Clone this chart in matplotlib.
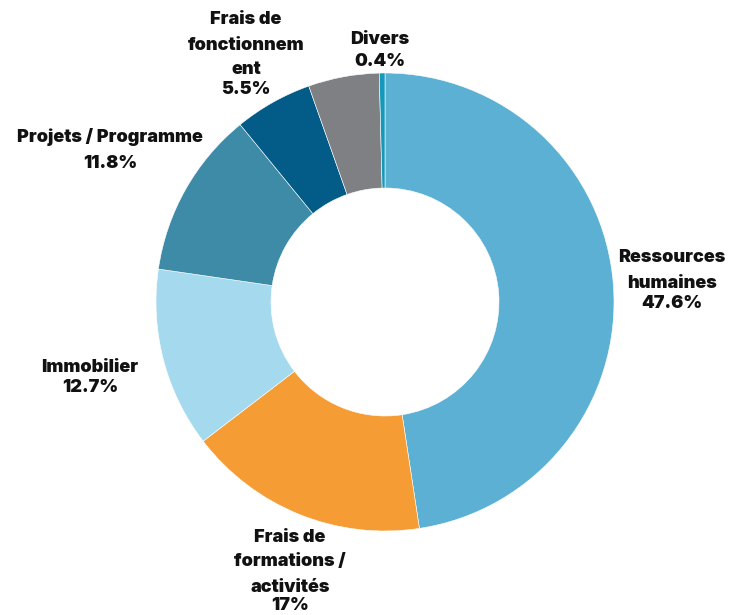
import matplotlib.pyplot as plt

# ----------------------------
# Data
# ----------------------------
categories = ["Ressources\nhumaines", "Frais de\nformations /\nactivités", "Immobilier",
              "Projets / Programme", "Frais de\nfonctionnem\nent", "", "Divers"]
values = [47.6, 17.0, 12.7, 11.8, 5.5, 5.0, 0.4]
pct_labels = ["47.6%", "17%", "12.7%", "11.8%", "5.5%", "", "0.4%"]
colors = ["#5BB0D4", "#F59C34", "#A5DAEE", "#3D8BA6", "#035C88", "#7F8083", "#1399B9"]

# label anchor (pixel coords, top-left origin): x centre, y of first line, gap to pct line
label_pos = [(672, 258, 21), (290, 537, 19), (90, 367, 20), (110, 137, 26),
             (246, 20, 19), None, (380, 40, 21)]

plt.rcParams['font.family'] = ['Inter', 'DejaVu Sans']

W, H = 731, 615
fig = plt.figure(figsize=(W / 100, H / 100), dpi=100)
ax = fig.add_axes([0, 0, 1, 1])

ax.pie(values, colors=colors, startangle=90, counterclock=False,
       center=(385, H - 302), radius=229, frame=True,
       wedgeprops=dict(width=115, edgecolor="white", linewidth=0.4))
ax.set_xlim(0, W)
ax.set_ylim(0, H)
ax.axis("off")

LINE = 25
for name, pct, pos in zip(categories, pct_labels, label_pos):
    if pos is None:
        continue
    x, y, gap = pos
    lines = name.split("\n")
    for i, ln in enumerate(lines):
        ax.text(x, H - (y + i * LINE), ln, ha="center", va="center",
                fontsize=13, fontweight="black", color="#111111")
    ax.text(x, H - (y + (len(lines) - 1) * LINE + gap), pct, ha="center", va="center",
            fontsize=13, fontweight="black", color="#111111")

fig.savefig("out.png", dpi=100)
